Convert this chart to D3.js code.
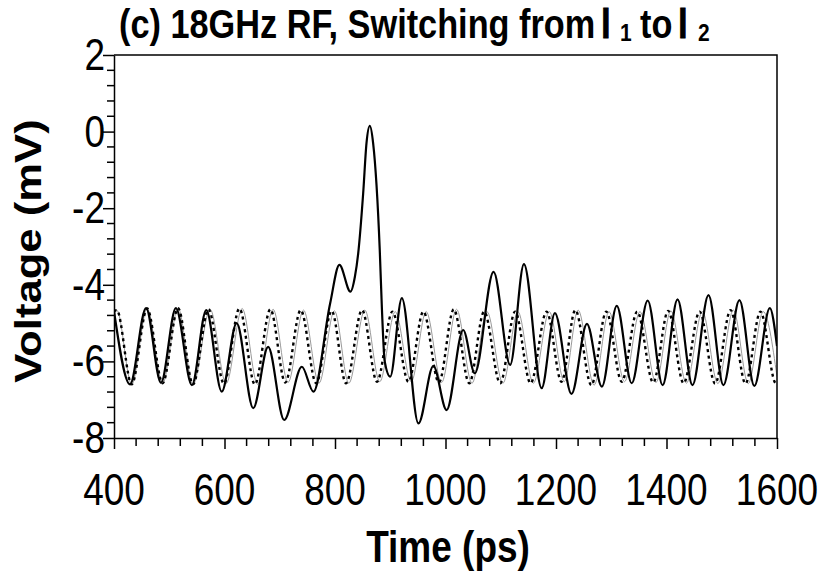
<!DOCTYPE html>
<html>
<head>
<meta charset="utf-8">
<script src="https://cdn.jsdelivr.net/npm/d3@7"></script>
<style>
  html, body { margin: 0; padding: 0; background: #fff; }
  svg { display: block; }
  text { font-family: "Liberation Sans", Arial, sans-serif; fill: #000; }
</style>
</head>
<body>
<svg id="chart" width="822" height="578"></svg>
<script>
// ---------- data ----------
const titleText = "(c) 18GHz RF, Switching from";
const xLabel = "Time (ps)";
const yLabel = "Voltage (mV)";
const xTicks = [400, 600, 800, 1000, 1200, 1400, 1600];
const yTicks = [-8, -6, -4, -2, 0, 2];

// switching signal (solid black)
const solidTime = [400, 429, 458, 485, 512, 541, 567, 595, 622, 652, 679, 708, 740, 761, 791, 808, 828, 836, 842, 851, 857, 863, 869, 881, 885, 890, 900, 921, 951, 978, 1002, 1032, 1053, 1087, 1117, 1142, 1174, 1198, 1228, 1256, 1283, 1310, 1337, 1366, 1393, 1420, 1447, 1476, 1503, 1532, 1559, 1587, 1600];
const solidVolt = [-4.68, -6.60, -4.61, -6.56, -4.61, -6.62, -4.66, -6.79, -5.00, -7.22, -5.62, -7.53, -6.14, -6.79, -4.50, -3.48, -4.18, -3.79, -3.18, -1.61, -0.30, 0.15, -0.30, -3.09, -4.66, -6.00, -6.40, -4.35, -7.62, -6.12, -7.27, -5.18, -6.31, -3.66, -6.09, -3.46, -6.70, -4.74, -6.85, -5.02, -6.66, -4.55, -6.57, -4.41, -6.62, -4.38, -6.62, -4.27, -6.62, -4.40, -6.64, -4.61, -5.60];

// reference oscillation (dotted black)
const dottedTime = [400, 405, 432, 460, 488, 516, 543, 571, 599, 627, 655, 683, 710, 738, 766, 794, 820, 849, 876, 904, 933, 960, 988, 1015, 1043, 1070, 1099, 1126, 1154, 1183, 1210, 1235, 1264, 1291, 1319, 1347, 1376, 1403, 1431, 1460, 1488, 1516, 1543, 1570, 1598, 1600];
const dottedVolt = [-4.70, -4.66, -6.60, -4.62, -6.57, -4.61, -6.60, -4.64, -6.58, -4.62, -6.60, -4.64, -6.55, -4.66, -6.57, -4.68, -6.57, -4.66, -6.53, -4.70, -6.53, -4.70, -6.55, -4.64, -6.57, -4.70, -6.57, -4.70, -6.57, -4.70, -6.53, -4.66, -6.62, -4.70, -6.53, -4.70, -6.55, -4.68, -6.57, -4.70, -6.58, -4.66, -6.58, -4.70, -6.57, -6.56];

// second reference (thin grey)
const greyTime = [400, 405, 432, 460, 488, 516, 543, 574, 603, 632, 660, 688, 715, 743, 771, 799, 825, 854, 881, 909, 938, 965, 993, 1020, 1048, 1075, 1104, 1131, 1159, 1188, 1215, 1240, 1269, 1296, 1324, 1352, 1381, 1408, 1436, 1465, 1493, 1521, 1548, 1575, 1600];
const greyVolt = [-4.70, -4.66, -6.60, -4.62, -6.57, -4.61, -6.60, -4.64, -6.58, -4.62, -6.60, -4.64, -6.55, -4.66, -6.57, -4.68, -6.57, -4.66, -6.53, -4.70, -6.53, -4.70, -6.55, -4.64, -6.57, -4.70, -6.57, -4.70, -6.57, -4.70, -6.53, -4.66, -6.62, -4.70, -6.53, -4.70, -6.55, -4.68, -6.57, -4.70, -6.58, -4.66, -6.58, -4.70, -6.40];

// ---------- layout ----------
const plot = { left: 114, right: 777, top: 55, bottom: 438 };
const SY = 1.18; // vertical stretch of the lettering in the original

const svg = d3.select("#chart");
const x = d3.scaleLinear().domain([400, 1600]).range([plot.left, plot.right]);
const y = d3.scaleLinear().domain([-8, 2]).range([plot.bottom, plot.top]);

const zip = (ts, vs) => ts.map((t, i) => [t, vs[i]]);
const line = d3.line().x(d => x(d[0])).y(d => y(d[1])).curve(d3.curveMonotoneX);

const g = svg.append("g");
svg.append("defs").append("clipPath").attr("id", "plotclip")
  .append("rect").attr("x", plot.left).attr("y", plot.top - 2)
  .attr("width", plot.right - plot.left).attr("height", plot.bottom - plot.top + 2);

const lines = g.append("g").attr("clip-path", "url(#plotclip)");
lines.append("path").datum(zip(greyTime, greyVolt))
  .attr("d", line).attr("fill", "none").attr("stroke", "#9a9a9a").attr("stroke-width", 1);
lines.append("path").datum(zip(dottedTime, dottedVolt))
  .attr("d", line).attr("fill", "none").attr("stroke", "#000").attr("stroke-width", 2.4)
  .attr("stroke-dasharray", "3,3.5");
lines.append("path").datum(zip(solidTime, solidVolt))
  .attr("d", line).attr("fill", "none").attr("stroke", "#000").attr("stroke-width", 2.2)
  .attr("stroke-linejoin", "round");

// frame (top & right)
g.append("path")
  .attr("d", `M${plot.left},${plot.top}H${plot.right}V${plot.bottom}`)
  .attr("fill", "none").attr("stroke", "#000").attr("stroke-width", 1.5);

// axes with major ticks
const yMinor = d3.range(-8, 2.001, 0.4).filter(v => Math.abs(v / 2 - Math.round(v / 2)) > 0.01);
const xMinor = d3.range(400, 1601, 40).filter(v => v % 200 !== 0);

g.append("g").attr("transform", `translate(${plot.left},0)`)
  .call(d3.axisLeft(y).tickValues(yTicks).tickSize(11).tickSizeOuter(0).tickFormat(""));
g.append("g").attr("transform", `translate(0,${plot.bottom})`)
  .call(d3.axisBottom(x).tickValues(xTicks).tickSize(11).tickSizeOuter(0).tickFormat(""));
g.selectAll(".domain").attr("stroke", "#000").attr("stroke-width", 1.5);
g.selectAll(".tick line").attr("stroke", "#000").attr("stroke-width", 1.5);

// minor ticks
g.append("g").selectAll("line").data(yMinor).join("line")
  .attr("x1", plot.left - 7).attr("x2", plot.left).attr("y1", d => y(d)).attr("y2", d => y(d))
  .attr("stroke", "#000").attr("stroke-width", 1.5);
g.append("g").selectAll("line").data(xMinor).join("line")
  .attr("y1", plot.bottom).attr("y2", plot.bottom + 8).attr("x1", d => x(d)).attr("x2", d => x(d))
  .attr("stroke", "#000").attr("stroke-width", 1.5);

// tick labels
g.append("g").selectAll("text").data(yTicks).join("text")
  .attr("transform", d => `translate(105,${y(d) + 15}) scale(1,${SY})`)
  .attr("text-anchor", "end").attr("font-size", 37).text(d => String(d));
g.append("g").selectAll("text").data(xTicks).join("text")
  .attr("transform", d => `translate(${x(d)},505) scale(1,${SY})`)
  .attr("text-anchor", "middle").attr("font-size", 37).text(d => String(d));

// axis titles
svg.append("text")
  .attr("transform", `translate(448,562) scale(1,${SY})`)
  .attr("text-anchor", "middle").attr("font-size", 37).attr("font-weight", "bold").text(xLabel);
svg.append("text")
  .attr("transform", `translate(41,251) rotate(-90) scale(${SY},1)`)
  .attr("text-anchor", "middle").attr("font-size", 37).attr("font-weight", "bold").text(yLabel);

// title (pieces placed one after another)
const serif = "Liberation Serif";
const titleParts = [
  { t: titleText, x: 119, dy: 0, size: 34.3, fam: null, sw: 0 },
  { t: "l", x: 601, dy: 0, size: 35, fam: serif, sw: 0.7 },
  { t: "1", x: 620, dy: 3, size: 21, fam: null, sw: 0 },
  { t: "to", x: 640, dy: 0, size: 34.3, fam: null, sw: 0 },
  { t: "l", x: 678, dy: 0, size: 35, fam: serif, sw: 0.7 },
  { t: "2", x: 698, dy: 3, size: 21, fam: null, sw: 0 }
];
svg.append("g").selectAll("text").data(titleParts).join("text")
  .attr("transform", d => `translate(${d.x},${38 + d.dy}) scale(1,${SY})`)
  .attr("font-size", d => d.size).attr("font-weight", "bold")
  .attr("font-family", d => d.fam)
  .attr("stroke", d => d.sw ? "#000" : null).attr("stroke-width", d => d.sw || null)
  .text(d => d.t);
</script>
</body>
</html>
